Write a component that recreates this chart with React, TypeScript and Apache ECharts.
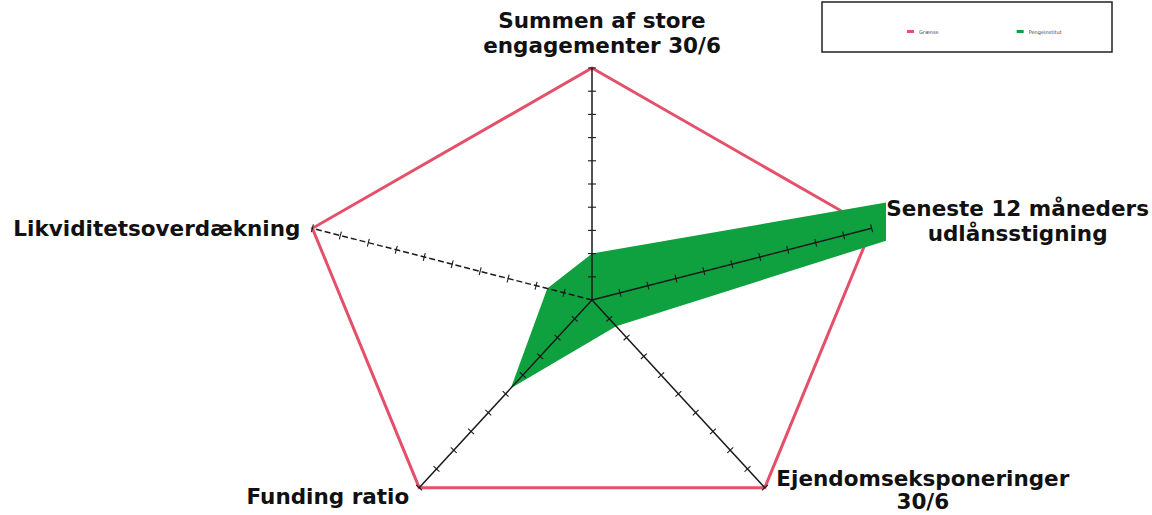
import React, { useEffect, useRef } from "react";
import * as echarts from "echarts";

// ---- data ----
const indicatorNames = [
  "Summen af store\nengagementer 30/6",
  "Seneste 12 måneders\nudlånsstigning",
  "Ejendomseksponeringer\n30/6",
  "Funding ratio",
  "Likviditetsoverdækning",
];
const axisMax = 10;
const tickValues = [1, 2, 3, 4, 5, 6, 7, 8, 9, 10];
const limitValues = [10, 10, 10, 10, 10];
const bankValues = [2, 20, 1.4, 4.7, 1.6];
const seriesNames = ["Grænse", "Pengeinstitut"];

// ---- styles ----
const RED = "#e4506a";
const GREEN = "#0fa03f";
const AXIS = "#1a1a1a";
const FONT = "DejaVu Sans";

// angle of each spoke (degrees), starting at top, clockwise
const angleOf = (i: number) => ((90 - 72 * i) * Math.PI) / 180;
const toXY = (i: number, v: number) => [v * Math.cos(angleOf(i)), v * Math.sin(angleOf(i))];

// label placement per spoke (pixel offsets from spoke end)
const labelLayout = [
  { dx: 10, dy: -10, align: "center", vAlign: "bottom", lh: 25 },
  { dx: 146, dy: -7, align: "center", vAlign: "middle", lh: 25 },
  { dx: 158, dy: -21, align: "center", vAlign: "top", lh: 23.5 },
  { dx: -10, dy: 9, align: "right", vAlign: "middle", lh: 24 },
  { dx: -12, dy: 0, align: "right", vAlign: "middle", lh: 24 },
];

export default function App() {
  const ref = useRef<HTMLDivElement>(null);
  useEffect(() => {
    if (!ref.current) return;
    const chart = echarts.init(ref.current, null, { renderer: "svg" });

    const polygonRender = (stroke: boolean) => (params: any, api: any) => {
      const pts = indicatorNames.map((_, i) => api.coord(toXY(i, api.value(i))));
      return {
        type: "polygon",
        shape: { points: pts },
        style: stroke
          ? { fill: "none", stroke: RED, lineWidth: 3, lineJoin: "miter" }
          : { fill: GREEN, stroke: "none" },
      };
    };

    const option: any = {
      animation: false,
      backgroundColor: "#ffffff",
      grid: { left: 298, right: 266, top: 56.4, bottom: 17.8 },
      xAxis: { type: "value", min: -axisMax, max: axisMax, show: false },
      yAxis: { type: "value", min: -8.5, max: 10.5, show: false },
      legend: {
        data: seriesNames,
        left: 902,
        top: 24,
        itemGap: 78,
        itemWidth: 7,
        itemHeight: 3,
        icon: "rect",
        textStyle: { fontSize: 5, color: "#444", fontFamily: FONT },
      },
      graphic: [
        {
          type: "rect",
          shape: { x: 822, y: 2, width: 290, height: 50 },
          style: { fill: "none", stroke: "#222", lineWidth: 1.5 },
          z: 10,
        },
      ],
      series: [
        {
          name: seriesNames[0],
          type: "custom",
          z: 1,
          clip: false,
          itemStyle: { color: RED },
          data: [limitValues],
          renderItem: polygonRender(true),
        },
        {
          name: seriesNames[1],
          type: "custom",
          z: 2,
          clip: true,
          itemStyle: { color: GREEN },
          data: [bankValues],
          renderItem: polygonRender(false),
        },
        {
          name: "axes",
          type: "custom",
          z: 3,
          clip: false,
          data: indicatorNames.map((_, i) => [i, axisMax]),
          renderItem: (params: any, api: any) => {
            const i = api.value(0);
            const m = api.value(1);
            const c = api.coord([0, 0]);
            const e = api.coord(toXY(i, m));
            const dx = e[0] - c[0];
            const dy = e[1] - c[1];
            const len = Math.hypot(dx, dy);
            const px = -dy / len;
            const py = dx / len;
            const children: any[] = [
              {
                type: "line",
                shape: { x1: c[0], y1: c[1], x2: e[0], y2: e[1] },
                style: {
                  stroke: AXIS,
                  lineWidth: 1.5,
                  lineDash: i === 4 ? [6, 3] : null,
                },
              },
            ];
            tickValues.forEach((t) => {
              const p = api.coord(toXY(i, t));
              children.push({
                type: "line",
                shape: { x1: p[0] - 4 * px, y1: p[1] - 4 * py, x2: p[0] + 4 * px, y2: p[1] + 4 * py },
                style: { stroke: AXIS, lineWidth: 1.1 },
              });
            });
            const L = labelLayout[i];
            children.push({
              type: "text",
              x: e[0] + L.dx,
              y: e[1] + L.dy,
              style: {
                text: indicatorNames[i],
                fill: "#111",
                fontFamily: FONT,
                fontWeight: "bold",
                fontSize: 21.5,
                lineHeight: L.lh,
                align: L.align,
                textAlign: L.align,
                verticalAlign: L.vAlign,
                textVerticalAlign: L.vAlign,
              },
            });
            return { type: "group", children };
          },
        },
      ],
    };
    chart.setOption(option);
    return () => chart.dispose();
  }, []);
  return (
    <div
      ref={ref}
      style={{ position: "fixed", left: 0, top: 0, width: 1152, height: 515, background: "#fff" }}
    />
  );
}
